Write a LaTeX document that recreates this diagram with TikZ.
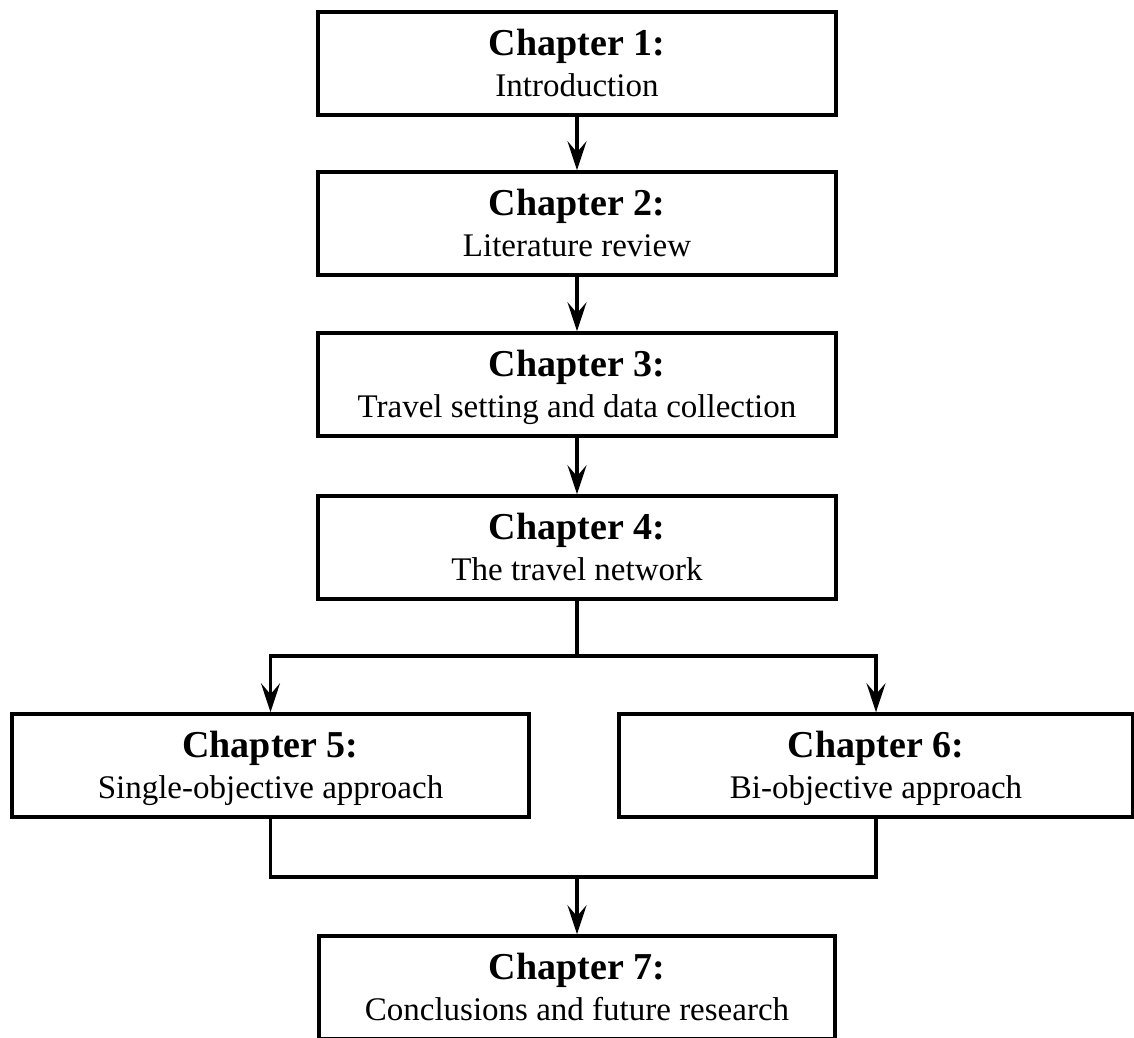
\documentclass[tikz,border=0pt]{standalone}
\usepackage{fontspec}
\setmainfont{Liberation Serif}
\usetikzlibrary{arrows.meta}

\newcommand\headfont{\fontsize{38}{42}\selectfont\bfseries}
\newcommand\titlefont{\fontsize{33}{36}\selectfont}

% one chapter box: name, centre, number, title, width
\newcommand\chapbox[5]{%
  \node[chapter box, minimum width=#5] (#1) at (#2) {};
  \node[anchor=base, font=\headfont] (#1-head) at ([yshift=-45pt]#1.north) {Chapter #3:};
  \node[anchor=base, font=\titlefont] (#1-title) at ([yshift=-86pt]#1.north) {#4};
}

\begin{document}
\begin{tikzpicture}[x=1pt, y=1pt,
    chapter box/.style={draw, line width=3.5pt, rectangle, minimum height=103pt, inner sep=0pt},
    link/.style={line width=3.3pt, line join=miter},
    arrow link/.style={link, -{Stealth[length=29pt, width=19pt, inset=11pt]}}]
  \useasboundingbox (0,0) rectangle (1134,-1037);

  \chapbox{c1}{577,-63.5}{1}{Introduction}{518pt}
  \chapbox{c2}{577,-223.5}{2}{Literature review}{518pt}
  \chapbox{c3}{577,-384.5}{3}{Travel setting and data collection}{518pt}
  \chapbox{c4}{577,-547.5}{4}{The travel network}{518pt}
  \chapbox{c5}{270.5,-765.5}{5}{Single-objective approach}{517pt}
  \chapbox{c6}{876,-765.5}{6}{Bi-objective approach}{514pt}
  \chapbox{c7}{577,-987.5}{7}{Conclusions and future research}{516pt}

  % straight chain of the first four chapters
  \draw[arrow link] (c1.south) -- (c2.north);
  \draw[arrow link] (c2.south) -- (c3.north);
  \draw[arrow link] (c3.south) -- (c4.north);

  % split into the two approaches
  \coordinate (fork) at (577,-656);
  \draw[link] (c4.south) -- (fork);
  \draw[arrow link] (fork) -| (c5.north);
  \draw[arrow link] (fork) -| (c6.north);

  % merge into the conclusions
  \coordinate (merge) at (577,-877);
  \draw[link] (c5.south) |- (merge);
  \draw[link] (c6.south) |- (merge);
  \draw[arrow link] (merge) -- (c7.north);
\end{tikzpicture}
\end{document}
